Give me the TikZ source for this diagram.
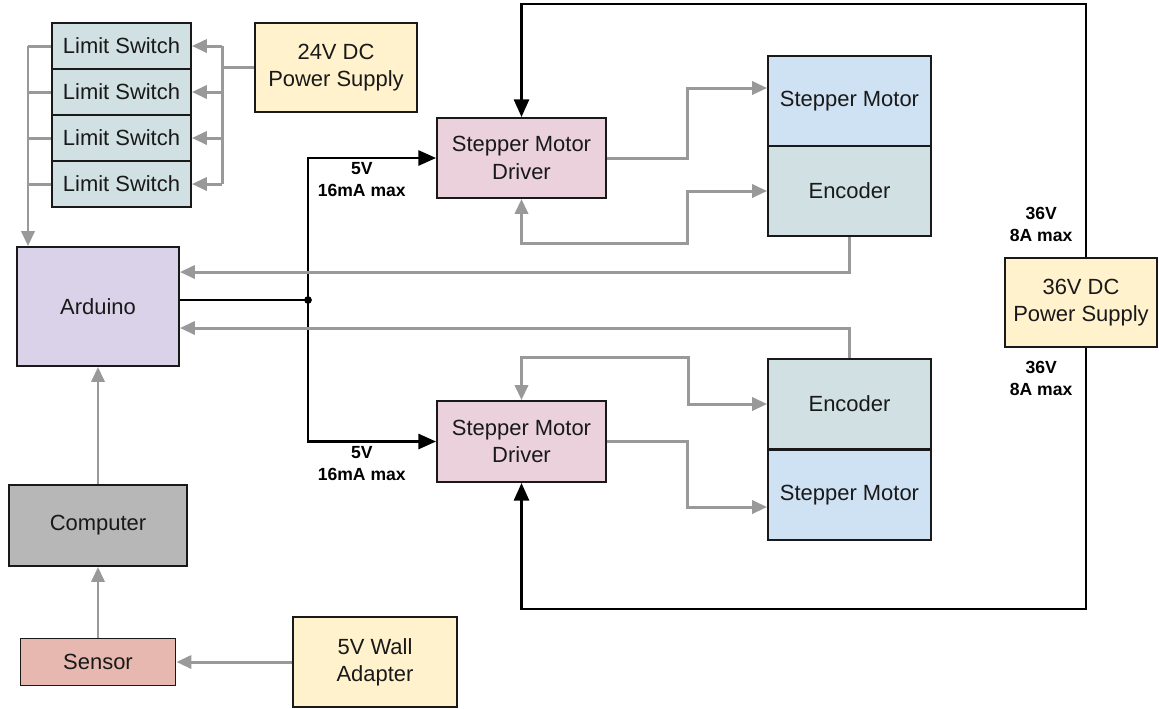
\documentclass[tikz,border=0pt]{standalone}
\usepackage{fontspec}
\setmainfont{Liberation Sans}
\usepackage{xcolor}
\usepackage{tikz}
\usetikzlibrary{arrows.meta}

\definecolor{swfill}{HTML}{D0E0E3}
\definecolor{psfill}{HTML}{FFF2CC}
\definecolor{drvfill}{HTML}{EAD1DC}
\definecolor{motfill}{HTML}{CFE2F3}
\definecolor{ardfill}{HTML}{D9D2E9}
\definecolor{compfill}{HTML}{B7B7B7}
\definecolor{sensfill}{HTML}{E6B8AF}
\definecolor{siggray}{HTML}{999999}

\begin{document}
\begin{tikzpicture}[x=0.02cm, y=-0.02cm,
  block/.style={draw=black!90, line width=1.1pt, text=black!90, font=\fontsize{12.5}{15.5}\selectfont,
    align=center, inner sep=0pt, minimum width=3.26cm, minimum height=1.8cm},
  sigline/.style={draw=siggray, line width=1.7pt},
  sigarrow/.style={sigline, -{Triangle[length=8.5pt,width=7.5pt]}},
  sigboth/.style={sigline, {Triangle[length=8.5pt,width=7.5pt]}-{Triangle[length=8.5pt,width=7.5pt]}},
  pwrline/.style={draw=black, line width=1.5pt},
  pwrarrow/.style={pwrline, -{Triangle[length=10pt,width=8.5pt]}},
  pwrlabel/.style={font=\fontsize{10}{12.5}\selectfont\bfseries, align=center, inner sep=2pt}
]
\useasboundingbox (0,0) rectangle (1159,708);

% limit switches and 24V supply
\foreach \i in {1,...,4}
  \node[block, fill=swfill, minimum width=2.78cm, minimum height=0.92cm] (ls\i) at (121.5,{46*\i}) {Limit Switch};
\node[block, fill=psfill, minimum width=3.24cm, minimum height=1.78cm] (ps24) at (336,67.5) {24V DC\\Power Supply};

% left column
\node[block, fill=ardfill, minimum width=3.24cm, minimum height=2.38cm] (ard) at (98,306.5) {Arduino};
\node[block, fill=compfill, minimum width=3.56cm, minimum height=1.62cm] (comp) at (98,525.5) {Computer};
\node[block, fill=sensfill, minimum width=3.1cm, minimum height=0.94cm] (sens) at (98,662) {Sensor};
\node[block, fill=psfill, minimum width=3.28cm, minimum height=1.8cm] (wall) at (375,662) {5V Wall\\Adapter};

% drivers
\node[block, fill=drvfill, minimum width=3.38cm, minimum height=1.6cm] (drv1) at (521.5,158) {Stepper Motor\\Driver};
\node[block, fill=drvfill, minimum width=3.38cm, minimum height=1.62cm] (drv2) at (521.5,441.5) {Stepper Motor\\Driver};

% motors, encoders and 36V supply
\node[block, fill=motfill] (mot1) at (849.5,101) {Stepper Motor};
\node[block, fill=swfill] (enc1) at (849.5,191) {Encoder};
\node[block, fill=swfill] (enc2) at (849.5,404) {Encoder};
\node[block, fill=motfill] (mot2) at (849.5,495) {Stepper Motor};
\node[block, fill=psfill, minimum width=3.04cm, minimum height=1.78cm] (ps36) at (1081,302.5) {36V DC\\Power Supply};

% limit switch wiring
\draw[sigline] (ps24.west) -- ++(-32,0) coordinate (busr);
\draw[sigline] (busr |- ls1) -- (busr |- ls4);
\coordinate (busl) at (28,46);
\foreach \i in {1,...,4} {
  \draw[sigarrow] (busr |- ls\i.east) -- (ls\i.east);
  \draw[sigline] (ls\i.west) -- (busl |- ls\i.west);
}
\draw[sigarrow] (busl) -- (busl |- ard.north);

% sensor chain
\draw[sigarrow] (wall) -- (sens);
\draw[sigarrow] (sens) -- (comp);
\draw[sigarrow] (comp) -- (ard);

% 5V logic supply to drivers
\coordinate (jn) at (308,300);
\draw[pwrline] (ard.east |- jn) -- (jn);
\fill (jn) circle (2.2pt);
\draw[pwrarrow] (jn) |- node[pwrlabel, below, pos=0.71] {5V\\16mA max} (drv1.west);
\draw[pwrarrow] (jn) |- node[pwrlabel, below, pos=0.71] {5V\\16mA max} (drv2.west);

% 36V motor supply
\coordinate (ptop) at (1086,4);
\coordinate (pbot) at (1086,609);
\draw[pwrarrow] (ps36.north -| ptop) -- node[pwrlabel, left=5pt, pos=0.13] {36V\\8A max} (ptop) -| (drv1.north);
\draw[pwrarrow] (ps36.south -| pbot) -- node[pwrlabel, left=5pt, pos=0.115] {36V\\8A max} (pbot) -| (drv2.south);

% upper motor signals
\coordinate (k1) at (687,243);
\draw[sigarrow] (drv1.east) -- ++(81,0) |- ([yshift=0.26cm]mot1.west);
\draw[sigboth] (drv1.south) |- (k1) |- (enc1.west);
\draw[sigarrow] (enc1.south) |- ([yshift=0.69cm]ard.east);

% lower motor signals
\coordinate (k2) at (688,357);
\draw[sigboth] (drv2.north) |- (k2) |- (enc2.west);
\draw[sigarrow] (drv2.east) -- ++(81,0) |- ([yshift=-0.24cm]mot2.west);
\draw[sigarrow] (enc2.north) |- ([yshift=-0.43cm]ard.east);

\end{tikzpicture}
\end{document}
